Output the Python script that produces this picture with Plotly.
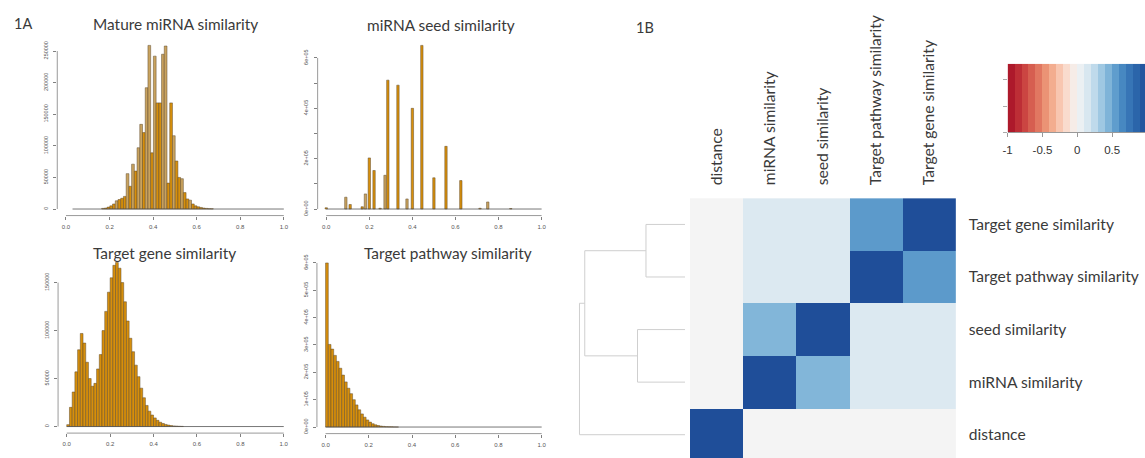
import plotly.graph_objects as go

FIG_W, FIG_H = 1145, 458

# ------------------------------------------------------------------ data
# Panel 1A-1: Mature miRNA similarity (bin centres, counts)
mature_x = [0.1700, 0.1825, 0.1950, 0.2075, 0.2200, 0.2325, 0.2450, 0.2575, 0.2700, 0.2825,
            0.2950, 0.3075, 0.3200, 0.3325, 0.3450, 0.3575, 0.3700, 0.3825, 0.3950, 0.4075,
            0.4200, 0.4325, 0.4450, 0.4575, 0.4700, 0.4825, 0.4950, 0.5075, 0.5200, 0.5325,
            0.5450, 0.5575, 0.5700, 0.5825, 0.5950, 0.6075, 0.6200, 0.6325, 0.6450, 0.6575,
            0.6700]
mature_y = [1000, 1500, 3000, 5000, 8000, 13000, 15000, 17000, 20000, 56000,
            36000, 71000, 60000, 97000, 134000, 121000, 192000, 259000, 89000, 242000,
            168000, 168000, 245000, 258000, 41000, 168000, 116000, 76000, 50000, 48000,
            26000, 16000, 14000, 8000, 5000, 3500, 2500, 1500, 1000, 600,
            400]
mature_breaks = [0.03, 1.0]

# Panel 1A-2: miRNA seed similarity
seed_x = [0.000, 0.091, 0.111, 0.167, 0.182, 0.200, 0.222, 0.250, 0.273, 0.286,
          0.333, 0.375, 0.400, 0.444, 0.500, 0.556, 0.625, 0.714, 0.750, 0.857]
seed_y = [5000, 47000, 18000, 9000, 60000, 203000, 153000, 3000, 134000, 512000,
          492000, 40000, 400000, 650000, 124000, 249000, 113000, 3000, 28000, 2000]
seed_breaks = [0.0, 1.0]

# Panel 1A-3: Target gene similarity
gene_x = [0.00625, 0.01875, 0.03125, 0.04375, 0.05625, 0.06875, 0.08125, 0.09375, 0.10625, 0.11875,
          0.13125, 0.14375, 0.15625, 0.16875, 0.18125, 0.19375, 0.20625, 0.21875, 0.23125, 0.24375,
          0.25625, 0.26875, 0.28125, 0.29375, 0.30625, 0.31875, 0.33125, 0.34375, 0.35625, 0.36875,
          0.38125, 0.39375, 0.40625, 0.41875, 0.43125, 0.44375, 0.45625, 0.46875, 0.48125, 0.49375,
          0.50625, 0.51875, 0.53125]
gene_y = [2000, 20000, 36000, 57000, 80000, 97000, 87000, 67000, 50000, 42000,
          45000, 60000, 75000, 100000, 120000, 140000, 155000, 168000, 171000, 165000,
          150000, 130000, 110000, 92000, 78000, 64000, 52000, 40000, 30000, 22000,
          16000, 12000, 9000, 6500, 4500, 3200, 2200, 1500, 1000, 700,
          500, 300, 200]
gene_breaks = [0.0, 1.0]

# Panel 1A-4: Target pathway similarity
path_x = [0.00625, 0.01875, 0.03125, 0.04375, 0.05625, 0.06875, 0.08125, 0.09375, 0.10625, 0.11875,
          0.13125, 0.14375, 0.15625, 0.16875, 0.18125, 0.19375, 0.20625, 0.21875, 0.23125, 0.24375,
          0.25625, 0.26875, 0.28125, 0.29375, 0.30625, 0.31875, 0.33125]
path_y = [600000, 302000, 285000, 262000, 240000, 215000, 190000, 165000, 142000, 122000,
          100000, 81000, 63000, 48000, 36000, 26000, 18000, 12000, 8000, 5500,
          3600, 2400, 1500, 1000, 600, 400, 250]
path_breaks = [0.0, 1.0]

hist_xticks = [0.0, 0.2, 0.4, 0.6, 0.8, 1.0]
hist_xlabels = ["0.0", "0.2", "0.4", "0.6", "0.8", "1.0"]
mature_yticks = [0, 50000, 100000, 150000, 200000, 250000]
mature_ylabels = ["0", "50000", "100000", "150000", "200000", "250000"]
seed_yticks = [0, 100000, 200000, 300000, 400000, 500000, 600000]
seed_ylabels = ["0e+00", "", "2e+05", "", "4e+05", "", "6e+05"]
gene_yticks = [0, 50000, 100000, 150000]
gene_ylabels = ["0", "50000", "100000", "150000"]
path_yticks = [0, 100000, 200000, 300000, 400000, 500000, 600000]
path_ylabels = ["0e+00", "1e+05", "2e+05", "3e+05", "4e+05", "5e+05", "6e+05"]

# Panel 1B: correlation matrix (order bottom->top rows, left->right columns)
variables = ["distance", "miRNA similarity", "seed similarity",
             "Target pathway similarity", "Target gene similarity"]
corr = [
    [1.00, 0.00, 0.00, 0.00, 0.00],
    [0.00, 1.00, 0.44, 0.13, 0.13],
    [0.00, 0.44, 1.00, 0.13, 0.13],
    [0.00, 0.13, 0.13, 1.00, 0.56],
    [0.00, 0.13, 0.13, 0.56, 1.00],
]
# dendrogram merges: (node a, node b, height); new nodes numbered 5, 6, 7, 8
dendro_merges = [(4, 3, 0.37), (2, 1, 0.45), (5, 6, 0.95), (7, 0, 1.00)]

# colour key
key_edges = [-1.0, -0.9, -0.8, -0.7, -0.6, -0.5, -0.4, -0.3, -0.2, -0.1, 0.0,
             0.1, 0.2, 0.3, 0.4, 0.5, 0.6, 0.7, 0.8, 0.9, 1.0]
key_levels = [-0.95, -0.85, -0.75, -0.65, -0.55, -0.45, -0.35, -0.25, -0.15, -0.05,
              0.05, 0.15, 0.25, 0.35, 0.45, 0.55, 0.65, 0.75, 0.85, 0.95]
key_ticks = [-1, -0.5, 0, 0.5, 1]
key_labels = ["-1", "-0.5", "0", "0.5", "1"]

# ------------------------------------------------------------------ style
BAR_FILL = "#d78f0b"
BAR_LIGHT = "#c9a35f"
BAR_EDGE = "#5e4b2c"
AX_COL = "#808080"
TXT = "#3a3a3a"
TITLE_FONT = "Lato"
TICK_FONT = "Liberation Sans"

RDBU = [[0.0, "#a50f26"], [0.1, "#c5383b"], [0.2, "#dc6a57"], [0.3, "#f0a07f"],
        [0.4, "#fbd3c0"], [0.5, "#f4f4f4"], [0.6, "#cfe3ef"], [0.7, "#8fbfdd"],
        [0.8, "#4f91c7"], [0.9, "#2f6cb0"], [1.0, "#1f4e99"]]


def px_x(p):
    return p / FIG_W


def px_y(p):
    return 1 - p / FIG_H


def ax_names(k):
    return ("xaxis" if k == 1 else f"xaxis{k}", "yaxis" if k == 1 else f"yaxis{k}",
            "x" if k == 1 else f"x{k}", "y" if k == 1 else f"y{k}")


fig = go.Figure()
layout = {}
shapes = []
annotations = []

mature_light = {56000, 71000, 97000, 134000, 192000, 259000, 242000, 245000, 258000,
                116000, 48000, 14000, 13000}
seed_light = {47000, 60000, 134000, 40000, 28000}

panels = [
    dict(k=1, x=mature_x, y=mature_y, light=mature_light, w=0.0125, yt=mature_yticks,
         yl=mature_ylabels, brk=mature_breaks, dx=(52.5, 288.8), dy=(37.0, 214.5),
         title="Mature miRNA similarity", tpos=(171, 22)),
    dict(k=2, x=seed_x, y=seed_y, light=seed_light, w=0.011, yt=seed_yticks,
         yl=seed_ylabels, brk=seed_breaks, dx=(314.0, 547.6), dy=(37.0, 214.5),
         title="miRNA seed similarity", tpos=(438, 23)),
    dict(k=3, x=gene_x, y=gene_y, light=set(), w=0.0125, yt=gene_yticks,
         yl=gene_ylabels, brk=gene_breaks, dx=(53.3, 288.7), dy=(255.0, 433.0),
         title="Target gene similarity", tpos=(160, 252)),
    dict(k=4, x=path_x, y=path_y, light=set(), w=0.0125, yt=path_yticks,
         yl=path_ylabels, brk=path_breaks, dx=(313.3, 547.7), dy=(255.5, 433.5),
         title="Target pathway similarity", tpos=(445, 252)),
]

for p in panels:
    xa, ya, xr, yr = ax_names(p["k"])
    colors = [BAR_LIGHT if v in p["light"] else BAR_FILL for v in p["y"]]
    fig.add_trace(go.Bar(x=p["x"], y=p["y"], width=p["w"],
                         marker=dict(color=colors, line=dict(color=BAR_EDGE, width=0.5)),
                         xaxis=xr, yaxis=yr, hoverinfo="skip", showlegend=False))
    ymax = max(p["y"])
    layout[xa] = dict(domain=[px_x(p["dx"][0]), px_x(p["dx"][1])], range=[-0.04, 1.04],
                      anchor=yr, tickvals=hist_xticks, ticktext=hist_xlabels,
                      ticks="outside", ticklen=3, tickwidth=0.8, tickcolor=AX_COL,
                      showline=False, showgrid=False, zeroline=False,
                      ticklabelstandoff=2,
                      tickfont=dict(family=TICK_FONT, size=6, color="#555"))
    layout[ya] = dict(domain=[px_y(p["dy"][1]), px_y(p["dy"][0])],
                      range=[-0.04 * ymax, 1.04 * ymax], anchor=xr,
                      tickvals=p["yt"], ticktext=p["yl"], tickangle=-90,
                      ticks="outside", ticklen=3, tickwidth=0.8, tickcolor=AX_COL,
                      showline=False, showgrid=False, zeroline=False,
                      ticklabelstandoff=3,
                      tickfont=dict(family=TICK_FONT, size=5.5, color="#555"))
    # R-style axis lines (from first to last tick)
    shapes.append(dict(type="line", xref=f"{xr} domain", yref=yr, x0=0, x1=0,
                       y0=p["yt"][0], y1=p["yt"][-1], line=dict(color=AX_COL, width=0.8)))
    shapes.append(dict(type="line", xref=xr, yref=f"{yr} domain", x0=hist_xticks[0],
                       x1=hist_xticks[-1], y0=0, y1=0, line=dict(color=AX_COL, width=0.8)))
    # baseline of empty histogram cells
    shapes.append(dict(type="line", xref=xr, yref=yr, x0=p["brk"][0], x1=p["brk"][1],
                       y0=0, y1=0, line=dict(color="#555", width=0.8)))
    annotations.append(dict(text=p["title"], x=px_x(p["tpos"][0]), y=px_y(p["tpos"][1]),
                            xref="paper", yref="paper", showarrow=False,
                            xanchor="center", yanchor="middle",
                            font=dict(family=TITLE_FONT, size=15.4, color=TXT)))

# ------------------------------------------------------------------ heatmap 1B
idx = list(range(len(variables)))
fig.add_trace(go.Heatmap(z=corr, x=idx, y=idx, zmin=-1, zmax=1, colorscale=RDBU,
                         showscale=False, xaxis="x5", yaxis="y5", hoverinfo="skip"))
layout["xaxis5"] = dict(domain=[px_x(688), px_x(955)], range=[-0.5, 4.5], anchor="y5",
                        side="top", tickvals=idx, ticktext=variables, tickangle=-90,
                        ticks="", showgrid=False, zeroline=False, showline=False,
                        ticklabelstandoff=12,
                        tickfont=dict(family=TITLE_FONT, size=15.6, color=TXT))
layout["yaxis5"] = dict(domain=[0, px_y(197)], range=[-0.443, 4.5], anchor="x5",
                        side="right", tickvals=idx, ticktext=variables, ticks="",
                        showgrid=False, zeroline=False, showline=False,
                        ticklabelstandoff=12,
                        tickfont=dict(family=TITLE_FONT, size=15.6, color=TXT))

# dendrogram
node_y = {i: float(i) for i in idx}
node_h = {i: 0.0 for i in idx}
dx_, dy_ = [], []
nid = len(variables)
for a, b, h in dendro_merges:
    dx_ += [node_h[a], h, h, node_h[b], None]
    dy_ += [node_y[a], node_y[a], node_y[b], node_y[b], None]
    node_y[nid] = (node_y[a] + node_y[b]) / 2
    node_h[nid] = h
    nid += 1
fig.add_trace(go.Scatter(x=dx_, y=dy_, mode="lines", line=dict(color="#cfcfcf", width=1),
                         xaxis="x6", yaxis="y5", hoverinfo="skip", showlegend=False))
layout["xaxis6"] = dict(domain=[px_x(570), px_x(688)], range=[1.066, -0.047],
                        anchor="y5", visible=False)

# colour key
fig.add_trace(go.Heatmap(z=[key_levels], x=key_edges, y=[0, 1.04], zmin=-1, zmax=1,
                         colorscale=RDBU, showscale=False, xaxis="x7", yaxis="y7",
                         hoverinfo="skip"))
layout["xaxis7"] = dict(domain=[px_x(1007), 1.0], range=[-1, 0.971], anchor="y7",
                        tickvals=key_ticks, ticktext=key_labels, ticks="outside",
                        ticklen=4, tickcolor="#999", showline=True, linecolor="#999",
                        linewidth=1, showgrid=False, zeroline=False,
                        ticklabelstandoff=3,
                        tickfont=dict(family=TICK_FONT, size=11.5, color="#333"))
layout["yaxis7"] = dict(domain=[px_y(131), px_y(62)], range=[0, 1.04], anchor="x7",
                        tickvals=[0, 0.4, 0.8], showticklabels=False, ticks="outside",
                        ticklen=4, tickcolor="#aaa", showline=False, showgrid=False,
                        zeroline=False)

annotations.append(dict(text="1A", x=px_x(18), y=px_y(22), xref="paper", yref="paper",
                        showarrow=False, xanchor="center", yanchor="middle",
                        font=dict(family=TITLE_FONT, size=14.5, color=TXT)))
annotations.append(dict(text="1B", x=px_x(643), y=px_y(26), xref="paper", yref="paper",
                        showarrow=False, xanchor="center", yanchor="middle",
                        font=dict(family=TITLE_FONT, size=14.5, color=TXT)))

fig.update_layout(width=FIG_W, height=FIG_H, margin=dict(l=0, r=0, t=0, b=0),
                  paper_bgcolor="white", plot_bgcolor="white", showlegend=False,
                  shapes=shapes, annotations=annotations, barmode="overlay", **layout)

fig.write_html("out.html",
               config={"displayModeBar": False},
               post_script="document.body.style.margin='0px';"
                           "document.body.style.overflow='hidden';")
